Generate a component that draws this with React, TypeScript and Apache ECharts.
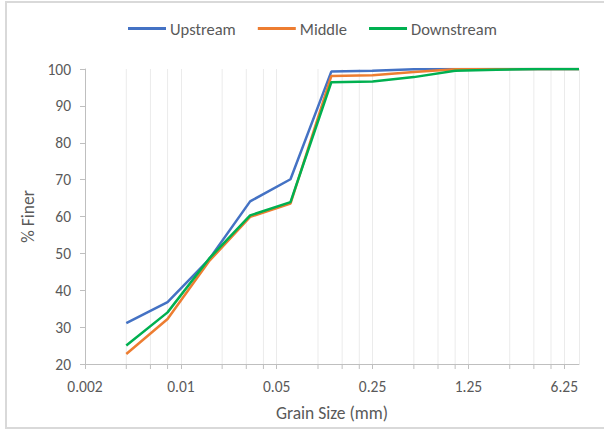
import React, { useEffect, useRef } from "react";
import * as echarts from "echarts";

// Grain sizes in mm
const grainSizes = [0.004, 0.008, 0.016, 0.032, 0.063, 0.125, 0.25, 0.5, 1, 2, 4, 8];
const upstream = [31.1, 36.8, 48.3, 64.1, 70.1, 99.3, 99.5, 99.9, 100, 100, 100, 100];
const middle = [22.7, 32.2, 47.8, 59.9, 63.5, 98.1, 98.3, 99.2, 99.9, 100, 100, 100];
const downstream = [25.0, 34.0, 48.5, 60.3, 63.9, 96.4, 96.6, 97.8, 99.5, 99.8, 100, 100];
const seriesNames = ["Upstream", "Middle", "Downstream"];
const seriesColors = ["#4472C4", "#ED7D31", "#00B050"];

// Axis: log base 5 starting at 0.002 mm (majors 0.002, 0.01, 0.05, 0.25, 1.25, 6.25)
const axisMinMm = 0.002;
const axisMaxMm = 8;
const minorMultipliers = [2, 3, 4];

// scale mm so that the axis min maps to 1 => log5 ticks land on 0.002*5^k
const SCALE = 1 / axisMinMm;
const toAxis = (mm: number) => mm * SCALE;

const minorTicks: number[] = [];
for (let k = 0; k < 6; k++) {
  for (const m of minorMultipliers) {
    const v = Math.pow(5, k) * m;
    if (v < toAxis(axisMaxMm)) minorTicks.push(v);
  }
}

const FONT = "Carlito, Calibri, Lato, 'Liberation Sans', sans-serif";
const TEXT = "#595959";
const AXIS = "#bfbfbf";
const GRID = "#ebebeb";

export default function App() {
  const ref = useRef<HTMLDivElement>(null);
  useEffect(() => {
    if (!ref.current) return;
    const chart = echarts.init(ref.current, undefined, { renderer: "svg" });
    const mk = (vals: number[]) => grainSizes.map((g, i) => [toAxis(g), vals[i]]);
    const all = [upstream, middle, downstream];
    chart.setOption({
      animation: false,
      backgroundColor: "#ffffff",
      textStyle: { fontFamily: FONT },
      graphic: [
        {
          type: "rect",
          shape: { x: 6, y: 2, width: 610, height: 426 },
          style: { fill: "none", stroke: "#d9d9d9", lineWidth: 2 },
          silent: true,
          z: -10,
        },
      ],
      legend: {
        data: seriesNames.map((n) => ({ name: n, icon: "rect" })),
        left: 123,
        top: 15,
        itemWidth: 38,
        itemHeight: 3,
        itemGap: 22,
        textStyle: { color: TEXT, fontSize: 16.5, fontFamily: FONT, padding: [0, 0, 0, -1] },
      },
      grid: { left: 85, right: 25, top: 69, bottom: 66 },
      xAxis: {
        type: "log",
        logBase: 5,
        min: toAxis(axisMinMm),
        max: toAxis(axisMaxMm),
        name: "Grain Size (mm)",
        nameLocation: "middle",
        nameGap: 40,
        nameTextStyle: { color: TEXT, fontSize: 17.5, fontFamily: FONT },
        axisLine: { show: true, lineStyle: { color: AXIS, width: 1 } },
        axisTick: { show: true, inside: false, length: 5, lineStyle: { color: AXIS } },
        axisLabel: {
          color: TEXT,
          fontSize: 15.5,
          fontFamily: FONT,
          margin: 14,
          showMaxLabel: false,
          formatter: (v: number) => String(parseFloat((v / SCALE).toPrecision(6))),
        },
        splitLine: { show: true, lineStyle: { color: GRID, width: 1 } },
      },
      yAxis: {
        type: "value",
        min: 20,
        max: 100,
        interval: 10,
        name: "% Finer",
        nameLocation: "middle",
        nameRotate: 90,
        nameGap: 47,
        nameTextStyle: { color: TEXT, fontSize: 17.5, fontFamily: FONT },
        axisLine: { show: true, lineStyle: { color: AXIS, width: 1 } },
        axisTick: { show: true, inside: false, length: 5, lineStyle: { color: AXIS } },
        axisLabel: { color: TEXT, fontSize: 15.5, fontFamily: FONT, margin: 14 },
        splitLine: { show: false },
      },
      series: [
        {
          type: "custom",
          name: "minor",
          silent: true,
          z: 1,
          data: minorTicks.map((v) => [v, 20]),
          encode: { x: 0, y: 1 },
          renderItem: (_params: any, api: any) => {
            const x = api.value(0);
            const top = api.coord([x, 100]);
            const bot = api.coord([x, 20]);
            return {
              type: "group",
              children: [
                {
                  type: "line",
                  shape: { x1: top[0], y1: top[1], x2: bot[0], y2: bot[1] },
                  style: { stroke: GRID, lineWidth: 1 },
                },
                {
                  type: "line",
                  shape: { x1: bot[0], y1: bot[1], x2: bot[0], y2: bot[1] + 5 },
                  style: { stroke: AXIS, lineWidth: 1 },
                },
              ],
            };
          },
        },
        ...seriesNames.map((name, i) => ({
          type: "line",
          name,
          data: mk(all[i]),
          symbol: "none",
          smooth: false,
          z: 3 + i,
          lineStyle: { color: seriesColors[i], width: 2.5 },
          itemStyle: { color: seriesColors[i] },
        })),
      ],
    });
    return () => chart.dispose();
  }, []);
  return (
    <div
      ref={ref}
      style={{ position: "absolute", left: 0, top: 0, width: 604, height: 430, background: "#fff" }}
    />
  );
}
